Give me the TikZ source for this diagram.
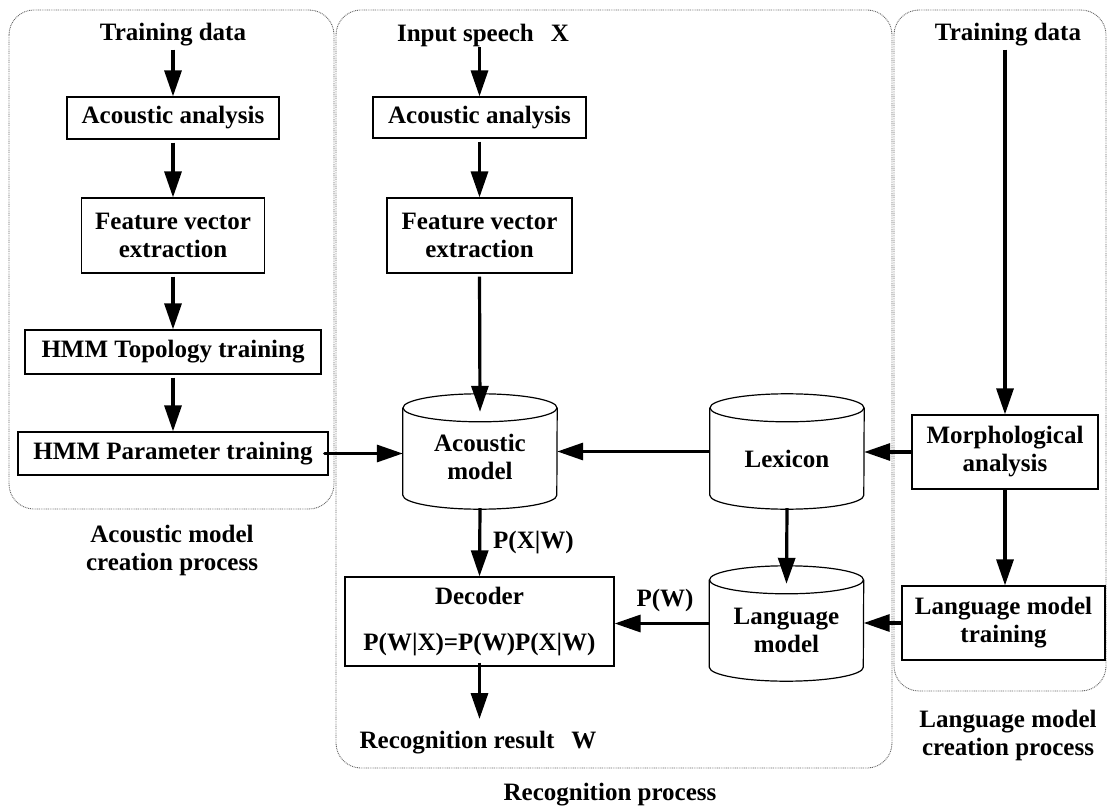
\documentclass[tikz,border=0pt]{standalone}
\usepackage{fontspec}
\setmainfont{Liberation Serif}
\usetikzlibrary{arrows.meta}

% outline of a database drum around a named body node
\newcommand\drumoutline[1]{%
  \draw[drumline] (#1.north west) -- (#1.south west)
    arc[start angle=180, end angle=360, x radius=77pt, y radius=14pt]
    -- (#1.north east);
  \draw[drumline] (#1.north) ellipse [x radius=77pt, y radius=14pt];
}

\begin{document}
\begin{tikzpicture}[x=1pt, y=-1pt,
  every node/.style={font=\fontsize{25}{28}\selectfont\bfseries,
                     align=center, inner sep=0pt},
  box/.style={draw, line width=1.2pt},
  drum/.style={minimum width=154pt, minimum height=87pt},
  drumline/.style={line width=1.2pt},
  panel/.style={draw=black!60, line width=0.9pt,
                dash pattern=on 0.9pt off 0.9pt, rounded corners=25pt},
  arr/.style={line width=3.2pt, -{Triangle[length=26pt, width=17pt]}},
  gap/.style={shorten <=3pt}]

  \fill[white] (0,0) rectangle (1108,810);

  % process panels
  \draw[panel] (9,10) rectangle (334,509);
  \draw[panel] (336,10) rectangle (892,768);
  \draw[panel] (894,10) rectangle (1106,691);

  % acoustic model creation
  \node (td1) at (173,35) {Training data};
  \node[box, minimum width=212pt, minimum height=42pt] (aa1) at (173,118) {Acoustic analysis};
  \node[box, minimum width=183pt, minimum height=75pt] (fv1) at (173,235.5) {Feature vector\\extraction};
  \node[box, minimum width=296pt, minimum height=44pt] (ht) at (173,352) {HMM Topology training};
  \node[box, minimum width=310pt, minimum height=43pt] (hp) at (173,453.5) {HMM Parameter training};
  \node (amcp) at (172,550) {Acoustic model\\creation process};

  % recognition
  \node (in) at (483,35) {Input speech\hspace{17pt}X};
  \coordinate (inarr) at (479.5,47);
  \node[box, minimum width=213pt, minimum height=41pt] (aa2) at (479.5,117.5) {Acoustic analysis};
  \node[box, minimum width=185pt, minimum height=75pt] (fv2) at (479.5,235.5) {Feature vector\\extraction};
  \node[drum] (am) at (480,451.5) {};
  \node (amt) at (480,457) {Acoustic\\model};
  \node[drum] (lx) at (787,451.5) {};
  \node (lxt) at (787,459) {Lexicon};
  \node[drum] (lm) at (786.5,623.5) {};
  \node (lmt) at (786.5,630) {Language\\model};
  \node[box, minimum width=269pt, minimum height=89pt] (dec) at (479.5,621.5)
    {Decoder\\[18.7pt]P(W|X)=P(W)P(X|W)};
  \node (res) at (478,743) {Recognition result\hspace{17pt}W};
  \coordinate (resarr) at (479.5,719);
  \node (rp) at (610,795) {Recognition process};
  \node[anchor=west] (pxw) at (493,543) {P(X|W)};
  \node (pw) at (665,600) {P(W)};

  \drumoutline{am}
  \drumoutline{lx}
  \drumoutline{lm}

  % language model creation
  \node (td2) at (1008,35) {Training data};
  \node[box, minimum width=186pt, minimum height=74pt] (mo) at (1005,452) {Morphological\\analysis};
  \node[box, minimum width=203pt, minimum height=74pt] (lt) at (1003.5,623) {Language model\\training};
  \node (lmcp) at (1008,735) {Language model\\creation process};

  % connectors
  \draw[arr, gap] (td1.south) -- (td1.south |- aa1.north);
  \draw[arr, gap] (aa1.south) -- (fv1.north);
  \draw[arr, gap] (fv1.south) -- (ht.north);
  \draw[arr, gap] (ht.south) -- (hp.north);
  \draw[arr, line cap=round, shorten <=-4pt] (hp.east) -- (hp.east -| am.west);

  \draw[arr] (inarr) -- (aa2.north);
  \draw[arr, gap] (aa2.south) -- (fv2.north);
  \draw[arr, gap] (fv2.south) -- ([yshift=-4pt]am.north);
  \draw[arr] ([yshift=-13pt]am.south) -- (dec.north);
  \draw[arr, shorten <=-4pt] (dec.south) -- (resarr);

  \draw[arr] (lx.west) -- (am.east);
  \draw[arr] ([yshift=-13pt]lx.south) -- ([yshift=-4pt]lm.north);
  \draw[arr] (lm.west) -- (lm.west -| dec.east);

  \draw[arr, gap] (td2.south -| mo.north) -- (mo.north);
  \draw[arr] (mo.west) -- (mo.west -| lx.east);
  \draw[arr] (mo.south) -- (mo.south |- lt.north);
  \draw[arr] (lt.west) -- (lt.west -| lm.east);
\end{tikzpicture}
\end{document}
